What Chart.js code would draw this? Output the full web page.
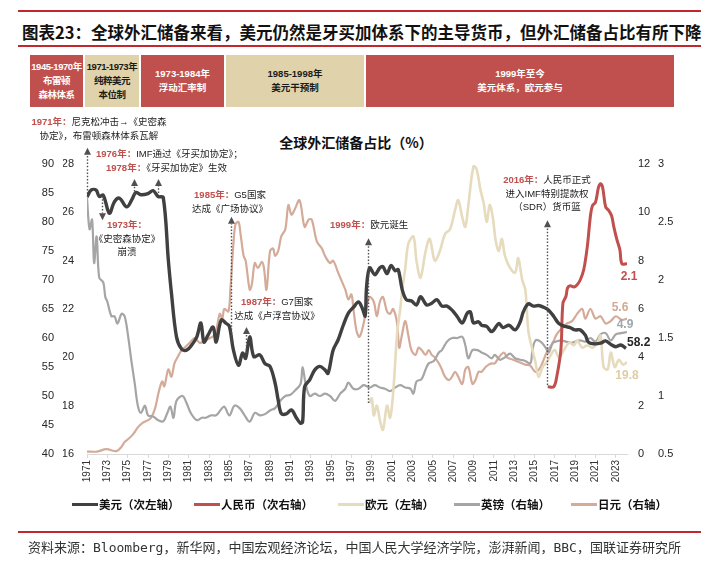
<!DOCTYPE html>
<html lang="zh-CN">
<head>
<meta charset="utf-8">
<title>全球外汇储备占比</title>
<script src="https://cdn.jsdelivr.net/npm/chart.js@4.4.1/dist/chart.umd.min.js"></script>
<style>
  body { margin: 0; background: #fff; }
  #page { position: relative; width: 719px; height: 564px; overflow: hidden;
          font-family: "Liberation Sans", "Noto Sans CJK SC", sans-serif; color: #222; }
  .rule { position: absolute; left: 18px; width: 683px; height: 2px; background: #c0282d; }
  #title { position: absolute; left: 22px; top: 20px; line-height: 20px; white-space: nowrap;
           font: bold 16.5px "Noto Sans CJK SC", sans-serif; color: #111; }
  .band { position: absolute; top: 55px; height: 52px; display: flex; flex-direction: column;
          justify-content: center; align-items: center; text-align: center; white-space: nowrap;
          font: bold 9.5px "Liberation Sans", "Noto Sans CJK SC", sans-serif; line-height: 14px; }
  .band.tight { letter-spacing: -0.45px; }
  .red { background: #c0504d; color: #fff; }
  .tan { background: #e0d3ab; color: #1a1a1a; }
  #chartTitle { position: absolute; left: 0; width: 712px; top: 133px; text-align: center;
                font: bold 14px "Noto Sans CJK SC", sans-serif; line-height: 18px; color: #111; }
  canvas { position: absolute; left: 0; top: 0; }
  .note { position: absolute; font: 9.5px "Liberation Sans", "Noto Sans CJK SC", sans-serif;
          line-height: 13.5px; white-space: nowrap; color: #222; }
  .note.c { text-align: center; transform: translateX(-50%); }
  .note b { color: #c0504d; font-weight: bold; }
  .leg { position: absolute; top: 496px; display: flex; align-items: center; white-space: nowrap;
         font: bold 11.5px "Noto Sans CJK SC", sans-serif; color: #111; }
  .leg i { display: inline-block; width: 26px; height: 3px; margin-right: 1px; }
  #source { position: absolute; left: 28px; top: 537px; line-height: 16px; white-space: nowrap;
            font: 13px "DejaVu Sans Mono", "Noto Sans CJK SC", monospace; color: #333; }
</style>
</head>
<body>
<div id="page">
  <div class="rule" style="top:10px"></div>
  <div id="title">图表23：全球外汇储备来看，美元仍然是牙买加体系下的主导货币，但外汇储备占比有所下降</div>
  <div class="rule" style="top:45px"></div>

  <div class="band red tight" style="left:30px;width:53px">1945-1970年<br>布雷顿<br>森林体系</div>
  <div class="band tan tight" style="left:85px;width:54px">1971-1973年<br>纯粹美元<br>本位制</div>
  <div class="band red" style="left:141px;width:83px">1973-1984年<br>浮动汇率制</div>
  <div class="band tan" style="left:226px;width:138px">1985-1998年<br>美元干预制</div>
  <div class="band red" style="left:366px;width:308px">1999年至今<br>美元体系，欧元参与</div>

  <div id="chartTitle">全球外汇储备占比（%）</div>

  <canvas id="chart" width="719" height="564"></canvas>

  <div class="note c" style="left:99px;top:115px"><b>1971年：</b>尼克松冲击→《史密森<br>协定》，布雷顿森林体系瓦解</div>
  <div class="note" style="left:96px;top:147px"><b>1976年：</b>IMF通过《牙买加协定》；</div>
  <div class="note" style="left:106px;top:161px"><b>1978年：</b>《牙买加协定》生效</div>
  <div class="note c" style="left:127px;top:218px"><b>1973年：</b><br>《史密森协定》<br>崩溃</div>
  <div class="note c" style="left:230px;top:188px"><b>1985年：</b>G5国家<br>达成《广场协议》</div>
  <div class="note c" style="left:277px;top:295px"><b>1987年：</b>G7国家<br>达成《卢浮宫协议》</div>
  <div class="note" style="left:330px;top:218px"><b>1999年：</b>欧元诞生</div>
  <div class="note c" style="left:547px;top:173px"><b>2016年：</b>人民币正式<br>进入IMF特别提款权<br>（SDR）货币篮</div>

  <div id="legend"></div>

  <div class="rule" style="top:531px"></div>
  <div id="source">资料来源：Bloomberg，新华网，中国宏观经济论坛，中国人民大学经济学院，澎湃新闻，BBC，国联证券研究所</div>
</div>

<script>
// --- Données (années décimales, parts en %) ---
const tickYears = [1971, 1973, 1975, 1977, 1979, 1981, 1983, 1985, 1987, 1989, 1991, 1993, 1995,
  1997, 1999, 2001, 2003, 2005, 2007, 2009, 2011, 2013, 2015, 2017, 2019, 2021, 2023];

// Dollar américain (axe secondaire gauche, 40-90)
const usdYears = [1971.0, 1971.4, 1971.9, 1972.2, 1972.6, 1973.2, 1973.7, 1974.2, 1974.9, 1975.4,
  1975.8, 1976.3, 1977.0, 1977.5, 1978.0, 1978.5, 1979.0, 1979.3, 1979.8, 1980.3, 1980.8, 1981.3,
  1981.8, 1982.2, 1982.5, 1982.9, 1983.4, 1983.7, 1984.2, 1984.7, 1985.0, 1985.4, 1985.9, 1986.3,
  1986.6, 1987.0, 1987.4, 1988.0, 1988.5, 1989.0, 1989.5, 1989.8, 1990.1, 1990.6, 1991.1, 1991.6,
  1992.0, 1992.2, 1992.4, 1992.9, 1993.4, 1993.9, 1994.4, 1994.7, 1995.2, 1995.7, 1996.2, 1996.7,
  1997.2, 1997.7, 1998.1, 1998.35, 1998.5, 1998.8, 1999.3, 1999.8, 2000.1, 2000.5, 2000.9, 2001.3,
  2001.6, 2002.0, 2002.4, 2002.9, 2003.4, 2003.8, 2004.4, 2004.9, 2005.4, 2005.9, 2006.4, 2006.9,
  2007.4, 2007.9, 2008.4, 2008.7, 2009.0, 2009.5, 2009.8, 2010.3, 2010.8, 2011.5, 2011.9, 2012.5,
  2013.1, 2013.6, 2013.9, 2014.4, 2014.9, 2015.4, 2015.9, 2016.4, 2016.9, 2017.4, 2018.0, 2018.5,
  2019.0, 2019.5, 2020.0, 2020.3, 2020.8, 2021.5, 2022.0, 2022.5, 2023.0, 2023.5, 2024.0];
const usdShare = [84.3, 85.5, 85.5, 84.4, 84.6, 81.5, 83.5, 84.1, 82.6, 83.8,
  85.1, 84.7, 84.9, 85.4, 84.4, 84.2, 73.4, 67.8, 60.2, 58.1, 57.9, 58.8,
  60.2, 62.6, 59.3, 60.5, 61.9, 59.3, 63.1, 62.5, 62.0, 57.9, 55.3, 57.4,
  56.5, 60.2, 56.8, 57.1, 55.6, 55.1, 52.2, 49.3, 47.0, 46.9, 47.6, 46.2,
  45.3, 45.5, 51.6, 52.8, 54.5, 55.1, 54.5, 53.9, 57.9, 59.7, 62.2, 64.3,
  65.3, 66.2, 65.0, 63.8, 69.0, 72.1, 70.9, 72.1, 72.3, 71.1, 72.5, 71.6,
  71.8, 68.3, 66.6, 66.4, 65.7, 67.1, 65.7, 66.0, 66.6, 65.5, 65.5, 64.8,
  63.7, 62.6, 64.3, 64.5, 62.6, 62.8, 62.2, 62.0, 61.1, 62.5, 61.8, 62.2,
  61.4, 62.8, 64.5, 65.9, 65.5, 65.6, 65.3, 64.8, 63.7, 62.5, 62.0, 61.8,
  61.4, 61.4, 60.5, 59.3, 59.0, 59.1, 59.5, 58.9, 58.5, 58.8, 58.2];

// Renminbi (axe secondaire droit, 0.5-3)
const cnyYears = [2016.3, 2016.9, 2017.2, 2017.6, 2017.8, 2018.1, 2018.25, 2018.5, 2018.9, 2019.2,
  2019.5, 2019.85, 2020.2, 2020.5, 2020.7, 2021.0, 2021.3, 2021.5, 2021.7, 2022.0, 2022.3, 2022.6,
  2022.8, 2023.1, 2023.4, 2023.6, 2024.1];
const cnyShare = [1.08, 1.08, 1.17, 1.4, 1.8, 1.86, 1.93, 1.95, 1.94, 1.96,
  2.0, 2.09, 2.29, 2.55, 2.64, 2.67, 2.8, 2.83, 2.8, 2.63, 2.6, 2.55,
  2.46, 2.35, 2.26, 2.14, 2.14];

// Euro (axe gauche, 16-28)
const eurYears = [1998.75, 1999.0, 1999.2, 1999.5, 1999.8, 2000.1, 2000.5, 2000.8, 2001.1, 2001.5,
  2001.8, 2002.0, 2002.3, 2002.6, 2003.1, 2003.4, 2003.8, 2004.3, 2004.7, 2005.2, 2005.7, 2006.2,
  2006.7, 2007.2, 2007.5, 2007.9, 2008.2, 2008.5, 2009.0, 2009.3, 2009.7, 2010.0, 2010.3, 2010.6,
  2010.9, 2011.2, 2011.5, 2011.8, 2012.1, 2012.6, 2013.1, 2013.4, 2013.8, 2014.1, 2014.4, 2014.8,
  2015.1, 2015.4, 2015.8, 2016.2, 2016.6, 2017.0, 2017.4, 2017.9, 2018.4, 2018.9, 2019.2, 2019.7,
  2020.2, 2020.7, 2021.2, 2021.5, 2021.8, 2022.2, 2022.5, 2022.9, 2023.3, 2023.7, 2024.1];
const eurShare = [18.1, 18.3, 17.6, 18.0, 17.4, 17.0, 18.0, 17.5, 18.5, 21.0,
  22.0, 22.8, 23.7, 24.7, 25.0, 24.0, 23.3, 24.4, 24.9, 24.0, 24.4, 25.1,
  25.3, 26.1, 26.5, 25.8, 25.4, 26.3, 27.9, 27.8, 26.9, 26.4, 25.6, 26.3,
  25.8, 24.8, 24.4, 24.9, 24.2, 23.7, 23.5, 24.1, 23.2, 22.8, 21.1, 20.3,
  19.8, 19.2, 19.6, 19.8, 20.1, 20.3, 20.0, 20.3, 20.6, 20.5, 20.7, 20.4,
  20.5, 20.4, 20.6, 20.9, 19.6, 19.5, 20.2, 19.6, 19.9, 19.7, 19.8];

// Livre sterling (axe droit, 0-12)
const gbpYears = [1971.0, 1971.25, 1971.5, 1971.7, 1971.95, 1972.2, 1972.6, 1972.8, 1973.0, 1973.4,
  1973.7, 1974.0, 1974.4, 1974.7, 1975.0, 1975.4, 1975.7, 1976.0, 1976.3, 1976.7, 1977.0, 1977.5,
  1978.0, 1978.5, 1978.9, 1979.2, 1979.5, 1979.8, 1980.4, 1980.8, 1981.2, 1981.8, 1982.3, 1982.7,
  1983.2, 1983.7, 1984.1, 1984.5, 1985.0, 1985.5, 1986.0, 1986.5, 1987.0, 1987.5, 1988.0, 1988.5,
  1989.0, 1989.5, 1990.0, 1990.5, 1991.0, 1991.5, 1992.0, 1992.2, 1992.5, 1992.9, 1993.4, 1993.9,
  1994.4, 1994.9, 1995.4, 1995.9, 1996.4, 1996.7, 1997.2, 1997.7, 1998.2, 1998.8, 1999.3, 1999.8,
  2000.3, 2000.8, 2001.3, 2001.8, 2002.3, 2002.8, 2003.1, 2003.4, 2003.9, 2004.3, 2004.6, 2005.1,
  2005.6, 2005.9, 2006.4, 2006.9, 2007.4, 2007.9, 2008.2, 2008.5, 2008.9, 2009.4, 2009.8, 2010.3,
  2010.8, 2011.1, 2011.6, 2012.1, 2012.6, 2013.1, 2013.6, 2014.1, 2014.6, 2014.8, 2015.1, 2015.6,
  2016.1, 2016.4, 2016.8, 2017.1, 2017.6, 2018.1, 2018.6, 2019.0, 2019.5, 2020.0, 2020.5, 2021.0,
  2021.5, 2022.0, 2022.5, 2023.0, 2023.5, 2024.1];
const gbpShare = [10.6, 9.3, 9.7, 7.9, 9.0, 7.3, 7.1, 6.5, 6.3, 5.7,
  5.7, 5.4, 5.8, 5.7, 5.0, 3.75, 2.9, 2.0, 1.7, 2.0, 1.6, 1.55,
  1.4, 1.35, 1.7, 1.96, 1.5, 2.2, 2.4, 2.1, 1.7, 1.4, 1.5, 1.5,
  1.6, 1.6, 1.8, 1.96, 1.6, 2.0, 1.9, 1.6, 1.34, 1.7, 1.6, 1.65,
  1.8, 1.9, 2.2, 2.4, 2.45, 2.65, 2.9, 3.6, 2.9, 2.4, 2.5, 2.4,
  2.5, 2.4, 2.2, 2.5, 2.7, 2.95, 2.7, 2.7, 2.85, 2.75, 2.85, 2.75,
  2.7, 2.6, 2.75, 2.85, 2.75, 2.7, 2.5, 3.0, 3.1, 3.5, 3.75, 3.85,
  4.2, 4.3, 4.65, 4.8, 4.8, 4.85, 4.5, 3.96, 4.3, 4.3, 4.2, 4.1,
  3.96, 4.1, 3.9, 4.0, 4.15, 3.96, 3.9, 3.85, 3.75, 4.3, 4.7, 4.65,
  4.4, 4.2, 4.6, 4.65, 4.7, 4.65, 4.6, 4.65, 4.7, 4.65, 4.8, 4.65,
  4.95, 5.0, 4.7, 4.95, 5.0, 5.05];

// Yen japonais (axe droit, 0-12)
const jpyYears = [1971.0, 1972.0, 1972.9, 1973.9, 1974.4, 1974.7, 1975.0, 1975.5, 1976.0, 1976.5,
  1977.0, 1977.3, 1977.7, 1978.1, 1978.4, 1978.6, 1979.0, 1979.3, 1979.6, 1979.9, 1980.3, 1980.6,
  1981.1, 1981.6, 1982.1, 1982.6, 1983.1, 1983.6, 1984.05, 1984.3, 1984.5, 1984.9, 1985.1, 1985.4,
  1985.6, 1985.9, 1986.1, 1986.4, 1986.6, 1987.0, 1987.2, 1987.5, 1987.8, 1988.2, 1988.4, 1988.65,
  1989.0, 1989.3, 1989.5, 1989.8, 1990.1, 1990.5, 1990.8, 1991.1, 1991.4, 1991.9, 1992.4, 1992.8,
  1993.1, 1993.6, 1994.1, 1994.4, 1994.9, 1995.2, 1995.7, 1996.1, 1996.4, 1996.7, 1997.0, 1997.2,
  1997.5, 1997.8, 1998.2, 1998.5, 1998.8, 1999.2, 1999.5, 1999.8, 2000.1, 2000.5, 2000.8, 2001.1,
  2001.5, 2001.7, 2002.0, 2002.3, 2002.6, 2002.9, 2003.3, 2003.6, 2003.9, 2004.3, 2004.6, 2004.9,
  2005.2, 2005.6, 2005.9, 2006.2, 2006.6, 2006.9, 2007.2, 2007.5, 2007.9, 2008.2, 2008.5, 2008.9,
  2009.2, 2009.5, 2009.8, 2010.2, 2010.5, 2010.8, 2011.1, 2011.5, 2012.0, 2012.3, 2012.9, 2013.5,
  2014.1, 2014.6, 2015.1, 2015.6, 2016.2, 2016.8, 2017.2, 2017.7, 2018.2, 2018.7, 2019.2, 2019.7,
  2020.0, 2020.5, 2021.0, 2021.5, 2022.0, 2022.5, 2023.0, 2023.6, 2024.1];
const jpyShare = [0.1, 0.1, 0.2, 0.12, 0.3, 0.5, 0.6, 0.8, 1.1, 1.3,
  1.4, 1.5, 1.9, 2.65, 3.0, 2.8, 3.5, 3.2, 3.75, 4.0, 4.3, 4.4,
  4.6, 4.8, 4.6, 4.7, 4.8, 4.95, 5.8, 5.6, 6.0, 5.9, 6.8, 8.7,
  9.5, 9.6, 9.1, 8.2, 8.0, 6.8, 7.0, 7.9, 7.7, 7.95, 7.7, 6.8,
  8.4, 8.5, 8.2, 8.4, 9.0, 9.3, 10.3, 9.9, 10.1, 10.5, 9.4, 9.7,
  9.7, 8.8, 8.5, 8.2, 7.9, 8.0, 7.5, 7.1, 6.8, 6.4, 6.6, 6.0,
  5.1, 4.85, 5.4, 6.1, 6.5, 6.3, 5.7, 6.3, 6.5, 5.9, 5.8, 6.0,
  5.4, 4.4, 5.0, 5.5, 4.9, 4.3, 4.1, 4.4, 4.3, 4.1, 4.3, 4.1,
  4.0, 3.75, 3.5, 3.2, 3.06, 3.2, 3.4, 3.2, 2.9, 3.5, 3.6, 2.9,
  3.06, 3.4, 3.4, 3.6, 3.7, 3.75, 3.75, 4.0, 4.2, 4.0, 3.9, 3.8,
  3.7, 3.65, 3.4, 3.6, 4.2, 4.6, 4.96, 5.2, 5.4, 5.5, 5.8, 6.0,
  5.6, 6.0, 5.6, 5.7, 5.4, 5.5, 5.7, 5.55, 5.6];

// Valeurs affichées en bout de courbe
const endLabels = ['58.2', '2.1', '19.8', '4.9', '5.6'];

// Annotations : année, début et pointe de la flèche (en unités de l'axe du dollar)
const noteYears = [1971.0, 1972.5, 1975.6, 1978.0, 1985.15, 1986.6, 1998.67, 2016.24];
const noteFrom = [84.3, 84.5, 84.7, 85.0, 59.1, 57.4, 48.8, 51.9];
const noteTo = [92.8, 80.3, 87.4, 87.4, 80.9, 61.9, 77.2, 80.3];

// --- Styles ---
const FONT = '"Liberation Sans", "Noto Sans CJK SC", sans-serif';
const SERIES_STYLE = [
  { label: '美元（次左轴）', axis: 'yUsd', color: '#404040', width: 3.4, labelColor: '#262626' },
  { label: '人民币（次右轴）', axis: 'yCny', color: '#c0504d', width: 3, labelColor: '#c0504d' },
  { label: '欧元（左轴）', axis: 'yEur', color: '#e6dbbd', width: 2.6, labelColor: '#dccfa6' },
  { label: '英镑（右轴）', axis: 'yMid', color: '#a5a5a5', width: 2.2, labelColor: '#9ea6b0' },
  { label: '日元（右轴）', axis: 'yMid', color: '#d4ab99', width: 2.2, labelColor: '#d4a994' }
];
const END_OFFSET = [
  { dx: 1, dy: -6, align: 'left' },
  { dx: 2, dy: 13, align: 'center' },
  { dx: 0, dy: 14, align: 'center' },
  { dx: -2, dy: -7, align: 'center' },
  { dx: -7, dy: -11, align: 'center' }
];
const LEGEND_LEFT = [72, 194, 338, 454, 571];

const seriesData = [
  [usdYears, usdShare], [cnyYears, cnyShare], [eurYears, eurShare],
  [gbpYears, gbpShare], [jpyYears, jpyShare]
];

function toPoints(xs, ys) {
  return xs.map((x, i) => ({ x: x, y: ys[i] }));
}

// --- Légende HTML ---
const legendBox = document.getElementById('legend');
SERIES_STYLE.forEach((s, i) => {
  const item = document.createElement('div');
  item.className = 'leg';
  item.style.left = LEGEND_LEFT[i] + 'px';
  item.innerHTML = `<i style="background:${s.color}"></i>${s.label}`;
  legendBox.appendChild(item);
});

// --- Flèches d'annotation et étiquettes de fin ---
const notesPlugin = {
  id: 'notes',
  afterDatasetsDraw(chart) {
    const { ctx, scales } = chart;
    const xs = scales.x, ys = scales.yUsd;
    ctx.save();
    ctx.strokeStyle = '#505050';
    ctx.fillStyle = '#505050';
    ctx.lineWidth = 1.4;
    noteYears.forEach((yr, i) => {
      const x = Math.round(xs.getPixelForValue(yr)) + 0.5;
      const y0 = ys.getPixelForValue(noteFrom[i]);
      const tip = ys.getPixelForValue(noteTo[i]);
      const dir = tip < y0 ? 1 : -1;
      const base = tip + dir * 7;
      ctx.setLineDash([1.5, 1.8]);
      ctx.beginPath();
      ctx.moveTo(x, y0);
      ctx.lineTo(x, base);
      ctx.stroke();
      ctx.setLineDash([]);
      ctx.beginPath();
      ctx.moveTo(x, tip);
      ctx.lineTo(x - 3.5, base);
      ctx.lineTo(x + 3.5, base);
      ctx.closePath();
      ctx.fill();
    });

    ctx.font = 'bold 12px ' + FONT;
    ctx.textBaseline = 'middle';
    chart.data.datasets.forEach((ds, i) => {
      const pts = chart.getDatasetMeta(i).data;
      const last = pts[pts.length - 1];
      const off = END_OFFSET[i];
      ctx.fillStyle = SERIES_STYLE[i].labelColor;
      ctx.textAlign = off.align;
      ctx.fillText(endLabels[i], last.x + off.dx, last.y + off.dy);
    });
    ctx.restore();
  }
};

// --- Axes ---
function yAxis(position, weight, min, max, step, padding, width) {
  return {
    type: 'linear', position: position, weight: weight, min: min, max: max,
    grid: { display: false, drawTicks: false },
    border: { display: false },
    ticks: { stepSize: step, padding: padding, color: '#262626', font: { size: 11 },
             callback: v => String(v) },
    afterFit: s => { s.width = width; }
  };
}

Chart.defaults.font.family = FONT;

new Chart(document.getElementById('chart'), {
  type: 'line',
  data: {
    datasets: SERIES_STYLE.map((s, i) => ({
      label: s.label,
      data: toPoints(seriesData[i][0], seriesData[i][1]),
      yAxisID: s.axis,
      borderColor: s.color,
      borderWidth: s.width,
      pointRadius: 0,
      tension: 0.35,
      fill: false
    }))
  },
  options: {
    responsive: false,
    animation: false,
    events: [],
    layout: { padding: { left: 39, right: 33, top: 164, bottom: 70 } },
    plugins: { legend: { display: false }, tooltip: { enabled: false } },
    scales: {
      x: {
        type: 'linear', min: 1971, max: 2024.1,
        afterBuildTicks: s => { s.ticks = tickYears.map(v => ({ value: v })); },
        afterFit: s => { s.height = 40; },
        grid: { drawOnChartArea: false, drawTicks: true, tickLength: 4, color: '#d9d9d9' },
        border: { color: '#d9d9d9' },
        ticks: { autoSkip: false, minRotation: 90, maxRotation: 90, padding: 2,
                 color: '#333', font: { size: 10 }, callback: v => String(v) }
      },
      yUsd: yAxis('left', 2, 40, 90, 5, 9, 24),
      yEur: yAxis('left', 1, 16, 28, 2, 13, 24),
      yMid: yAxis('right', 1, 0, 12, 2, 11, 29),
      yCny: yAxis('right', 2, 0.5, 3, 0.5, 2, 30)
    }
  },
  plugins: [notesPlugin]
});
</script>
</body>
</html>
